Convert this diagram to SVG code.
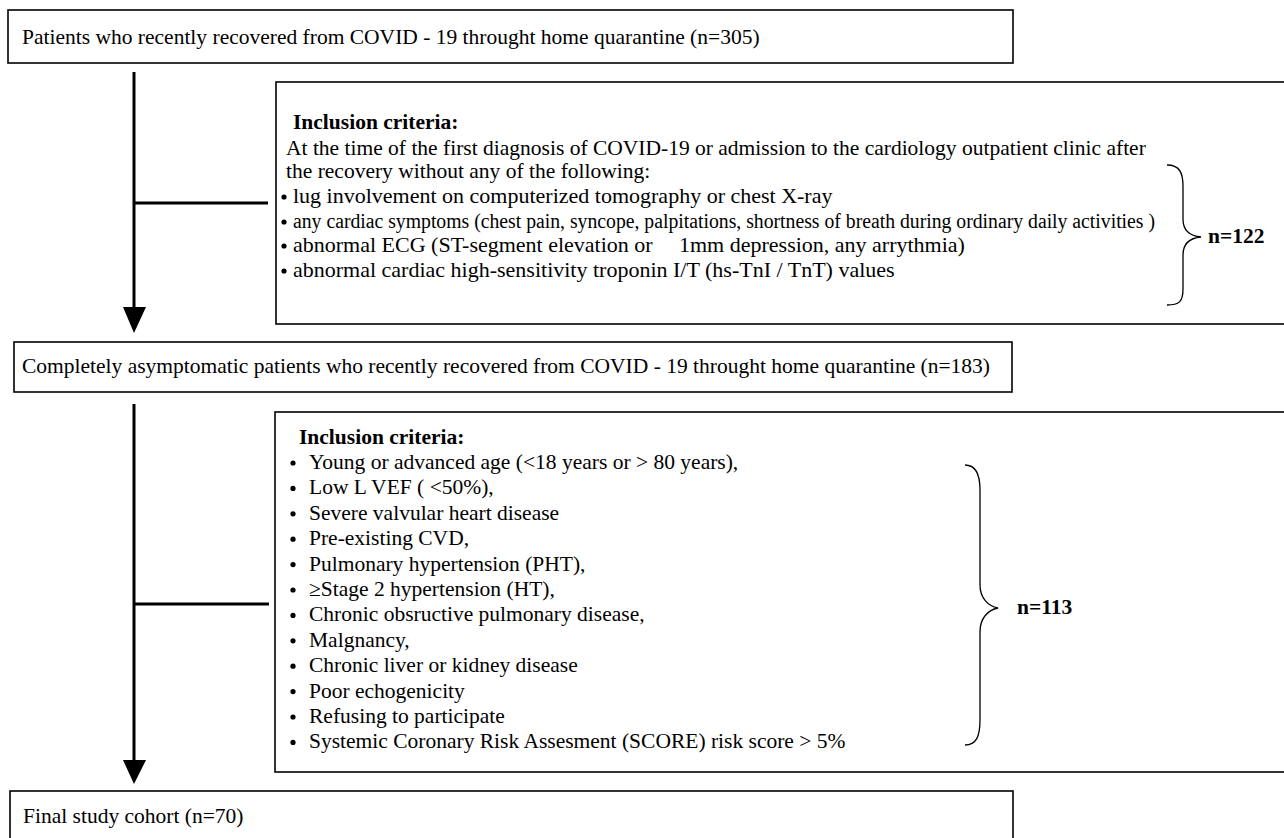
<svg xmlns="http://www.w3.org/2000/svg" width="1284" height="838" viewBox="0 0 1284 838">
<defs>
<style>
.box{fill:#fff;stroke:#000;stroke-width:1.6}
.t{font-family:"Liberation Serif","Times New Roman",serif;font-size:21.5px;fill:#000}
.s22{font-size:22px}
.s20{font-size:20px}
.b{font-weight:bold}
.ln{stroke:#000;stroke-width:3;fill:none}
.br{stroke:#000;stroke-width:1.3;fill:none}
.dot{fill:#000}
</style>
</defs>
<rect width="1284" height="838" fill="#fff"/>
<g id="connectors">
<line class="ln" x1="134" y1="72" x2="134" y2="310"/>
<polygon points="123,307 146,307 134,333" fill="#000"/>
<line class="ln" x1="134" y1="203" x2="268" y2="203"/>
<line class="ln" x1="134" y1="404" x2="134" y2="763"/>
<polygon points="123,760 146,760 134,784" fill="#000"/>
<line class="ln" x1="134" y1="604" x2="269" y2="604"/>
</g>
<g id="node-start">
<rect class="box" x="8" y="10" width="1005" height="53"/>
<text class="t" x="22" y="44">Patients who recently recovered from COVID - 19 throught home quarantine (n=305)</text>
</g>
<g id="node-exclusion1">
<rect class="box" x="276" y="82" width="1020" height="242"/>
<text class="t b" x="293" y="129">Inclusion criteria:</text>
<text class="t" x="286" y="155">At the time of the first diagnosis of COVID-19 or admission to the cardiology outpatient clinic after</text>
<text class="t" x="286" y="178">the recovery without any of the following:</text>
<circle class="dot" cx="284" cy="197" r="2.6"/>
<text class="t s22" x="293" y="203">lug involvement on computerized tomography or chest X-ray</text>
<circle class="dot" cx="284" cy="222" r="2.6"/>
<text class="t s20" x="293" y="228" textLength="862" lengthAdjust="spacingAndGlyphs">any cardiac symptoms (chest pain, syncope, palpitations, shortness of breath during ordinary daily activities )</text>
<circle class="dot" cx="284" cy="246" r="2.6"/>
<text class="t s22" x="293" y="252">abnormal ECG (ST-segment elevation or</text>
<text class="t s22" x="679" y="252">1mm depression, any arrythmia)</text>
<circle class="dot" cx="284" cy="271" r="2.6"/>
<text class="t s22" x="293" y="277">abnormal cardiac high-sensitivity troponin I/T (hs-TnI / TnT) values</text>
<path class="br" d="M1167,165 C1179,165 1183,172 1183,186 L1183,219 C1183,230 1190,236 1201,237 C1190,238 1183,244 1183,255 L1183,289 C1183,302 1179,305 1167,305"/>
<text class="t b" x="1208" y="243">n=122</text>
</g>
<g id="node-asymptomatic">
<rect class="box" x="14" y="342" width="998" height="50"/>
<text class="t" x="22" y="373">Completely asymptomatic patients who recently recovered from COVID - 19 throught home quarantine (n=183)</text>
</g>
<g id="node-exclusion2">
<rect class="box" x="275" y="412" width="1020" height="360"/>
<text class="t b" x="299" y="444">Inclusion criteria:</text>
<circle class="dot" cx="293" cy="463" r="2.6"/>
<text class="t" x="309" y="469">Young or advanced age (&lt;18 years or &gt; 80 years),</text>
<circle class="dot" cx="293" cy="488.4" r="2.6"/>
<text class="t" x="309" y="494.4">Low L VEF ( &lt;50%),</text>
<circle class="dot" cx="293" cy="513.8" r="2.6"/>
<text class="t" x="309" y="519.8">Severe valvular heart disease</text>
<circle class="dot" cx="293" cy="539.2" r="2.6"/>
<text class="t" x="309" y="545.2">Pre-existing CVD,</text>
<circle class="dot" cx="293" cy="564.6" r="2.6"/>
<text class="t" x="309" y="570.6">Pulmonary hypertension (PHT),</text>
<circle class="dot" cx="293" cy="590" r="2.6"/>
<text class="t" x="309" y="596">≥Stage 2 hypertension (HT),</text>
<circle class="dot" cx="293" cy="615.4" r="2.6"/>
<text class="t" x="309" y="621.4">Chronic obsructive pulmonary disease,</text>
<circle class="dot" cx="293" cy="640.8" r="2.6"/>
<text class="t" x="309" y="646.8">Malgnancy,</text>
<circle class="dot" cx="293" cy="666.2" r="2.6"/>
<text class="t" x="309" y="672.2">Chronic liver or kidney disease</text>
<circle class="dot" cx="293" cy="691.6" r="2.6"/>
<text class="t" x="309" y="697.6">Poor echogenicity</text>
<circle class="dot" cx="293" cy="717" r="2.6"/>
<text class="t" x="309" y="723">Refusing to participate</text>
<circle class="dot" cx="293" cy="742.4" r="2.6"/>
<text class="t" x="309" y="748.4">Systemic Coronary Risk Assesment (SCORE) risk score &gt; 5%</text>
<path class="br" d="M965,465 C976,465 980,474 980,490 L980,585 C980,598 988,606 998,608 C988,610 980,618 980,632 L980,720 C980,737 976,745 965,745"/>
<text class="t b" x="1017" y="614">n=113</text>
</g>
<g id="node-final">
<rect class="box" x="10" y="791" width="1003" height="60"/>
<text class="t" x="23" y="823">Final study cohort (n=70)</text>
</g>
</svg>
